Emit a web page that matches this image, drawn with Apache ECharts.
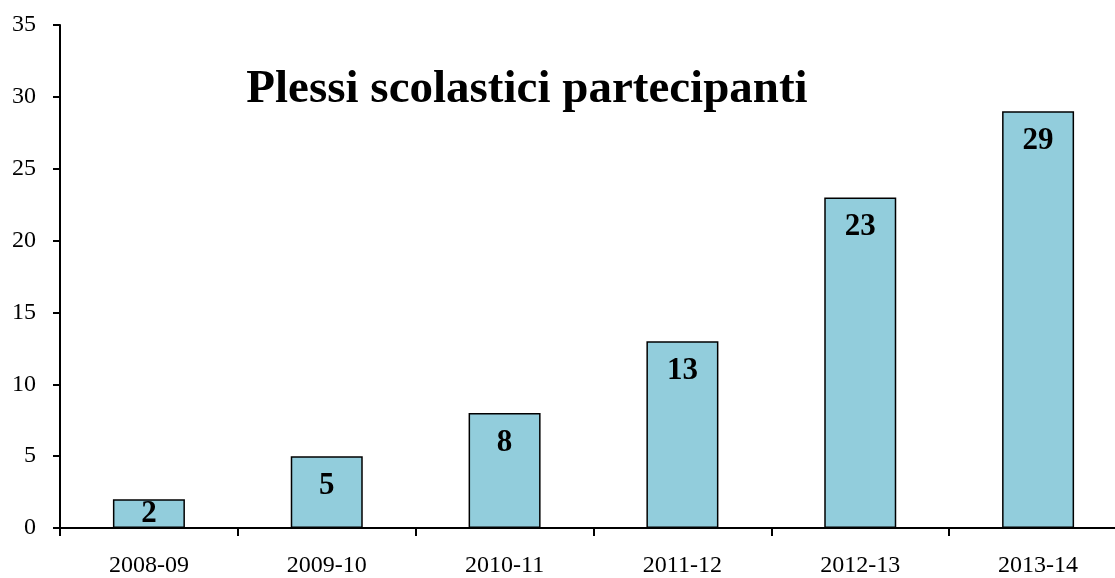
<!DOCTYPE html>
<html><head><meta charset="utf-8">
<script src="https://cdn.jsdelivr.net/npm/echarts@6/dist/echarts.min.js"></script>
<style>html,body{margin:0;padding:0;background:#fff;overflow:hidden;width:1115px;height:578px;}#c{width:1127px;height:578px;}</style>
</head><body><div id="c"></div>
<script>
const categories = ['2008-09','2009-10','2010-11','2011-12','2012-13','2013-14'];
const values = [2, 5, 8, 13, 23, 29];
const titleText = 'Plessi scolastici partecipanti';
const yMin = 0, yMax = 35, yStep = 5;

const font = '"Liberation Serif", "DejaVu Serif", serif';
const chart = echarts.init(document.getElementById('c'));
chart.setOption({
  animation: false,
  backgroundColor: '#fff',
  title: {
    text: titleText, left: 522, top: 61, textAlign: 'center',
    textStyle: { fontFamily: font, fontSize: 47, fontWeight: 'bold', color: '#000' }
  },
  grid: { left: 60, top: 25, right: 0, height: 503 },
  xAxis: {
    type: 'category', data: categories,
    axisLine: { lineStyle: { color: '#000', width: 2 } },
    axisTick: { show: true, length: 8, inside: false, alignWithLabel: false, lineStyle: { color: '#000', width: 2 } },
    axisLabel: { fontFamily: font, fontSize: 24, color: '#000', margin: 26 },
    splitLine: { show: false }
  },
  yAxis: {
    type: 'value', min: yMin, max: yMax, interval: yStep,
    axisLine: { show: true, lineStyle: { color: '#000', width: 2 } },
    axisTick: { show: true, length: 7, lineStyle: { color: '#000', width: 2 } },
    axisLabel: { fontFamily: font, fontSize: 24, color: '#000', margin: 24 },
    splitLine: { show: false }
  },
  series: [{
    type: 'bar', barWidth: 72,
    data: values.map((v, i) => i === 0 ? { value: v, label: { position: 'inside', distance: 0 } } : v),
    itemStyle: { color: '#92CDDC', borderColor: '#000', borderWidth: 1.5 },
    label: {
      show: true, position: 'insideTop', distance: 14,
      fontFamily: font, fontSize: 31, fontWeight: 'bold', color: '#000'
    }
  }]
});
</script></body></html>
